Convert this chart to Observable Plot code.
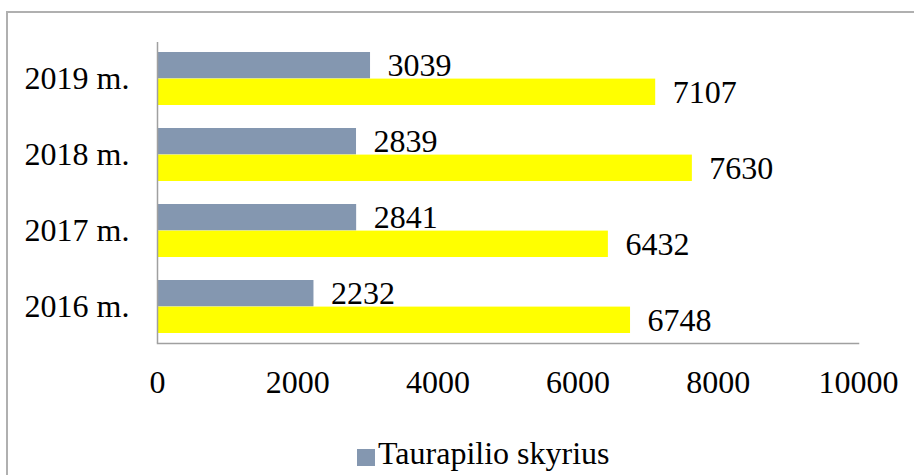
<!DOCTYPE html>
<html>
<head>
<meta charset="utf-8">
<script src="https://cdn.jsdelivr.net/npm/d3@7"></script>
<script src="https://cdn.jsdelivr.net/npm/@observablehq/plot@0.6"></script>
<style>
  html, body { margin: 0; padding: 0; background: #fff; overflow: hidden; }
  #wrap { position: relative; width: 914px; height: 475px; font-family: "Liberation Serif", "Times New Roman", serif; }
  #border { position: absolute; left: 6px; top: 11px; width: 1000px; height: 1000px; border: 2px solid #b0b0b0; box-sizing: border-box; pointer-events: none; }
  #chart svg { display: block; }
  #legend { position: absolute; left: 357px; top: 433px; display: flex; align-items: center; font-size: 32px; color: #000; white-space: nowrap; line-height: 40px; }
  #legend .sw { width: 18px; height: 17px; margin-right: 3px; margin-top: 8px; }
</style>
</head>
<body>
<div id="wrap">
  <div id="chart"></div>
  <div id="legend"></div>
  <div id="border"></div>
</div>
<script>
const years = ["2019 m.", "2018 m.", "2017 m.", "2016 m."];
const taurapilio = [3039, 2839, 2841, 2232];
const kiti = [7107, 7630, 6432, 6748];
const seriesNames = ["Taurapilio skyrius", "Kiti"];
const seriesColors = ["#8497B0", "#FFFF00"];
const xTicks = [0, 2000, 4000, 6000, 8000, 10000];

const grayData = years.map((y, i) => ({year: y, value: taurapilio[i], series: seriesNames[0]}));
const yellowData = years.map((y, i) => ({year: y, value: kiti[i], series: seriesNames[1]}));

const half = 26.6;

const chart = Plot.plot({
  width: 914,
  height: 420,
  marginLeft: 157,
  marginRight: 56,
  marginTop: 42,
  marginBottom: 77,
  style: {fontFamily: "'Liberation Serif', 'Times New Roman', serif", fontSize: "32px", color: "#000", background: "transparent", overflow: "visible"},
  x: {domain: [0, 10000], ticks: xTicks, tickSize: 0, tickPadding: 27, label: null, tickFormat: d => String(d)},
  y: {domain: years, paddingInner: 0.3, paddingOuter: 0.13, tickSize: 0, tickPadding: 28, label: null},
  color: {domain: seriesNames, range: seriesColors},
  marks: [
    Plot.barX(grayData, {x: "value", y: "year", fill: "series", insetBottom: half, insetTop: 0}),
    Plot.barX(yellowData, {x: "value", y: "year", fill: "series", insetTop: half, insetBottom: 0}),
    Plot.ruleX([0], {stroke: "#a0a0a0", strokeWidth: 1.5}),
    Plot.frame({anchor: "bottom", stroke: "#a0a0a0", strokeWidth: 1.5}),
    Plot.text(grayData, {x: "value", y: "year", text: d => String(d.value), dx: 17, dy: -half / 2, textAnchor: "start", fill: "#000", fontSize: 32}),
    Plot.text(yellowData, {x: "value", y: "year", text: d => String(d.value), dx: 17, dy: half / 2, textAnchor: "start", fill: "#000", fontSize: 32})
  ]
});
document.getElementById("chart").appendChild(chart);

const legend = document.getElementById("legend");
[0].forEach(i => {
  const sw = document.createElement("span");
  sw.className = "sw";
  sw.style.background = seriesColors[i];
  const t = document.createElement("span");
  t.textContent = seriesNames[i];
  legend.appendChild(sw);
  legend.appendChild(t);
});
</script>
</body>
</html>
